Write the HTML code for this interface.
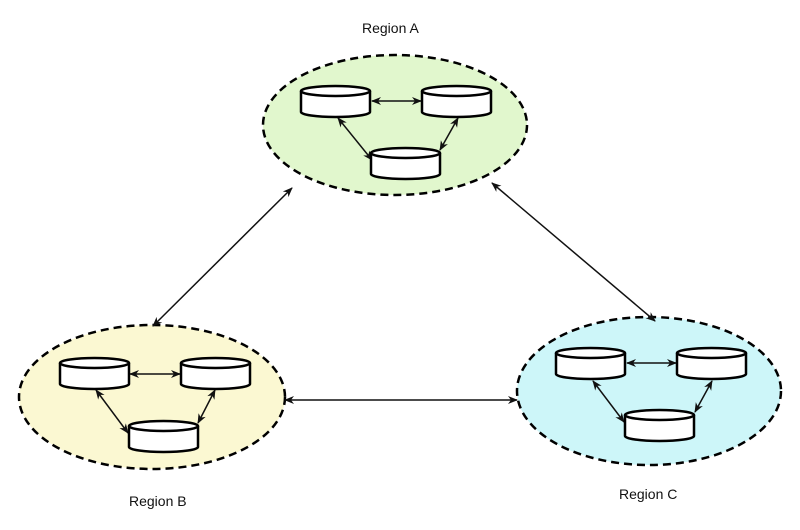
<!DOCTYPE html>
<html><head><meta charset="utf-8"><style>
html,body{margin:0;padding:0;background:#fff;}
svg{display:block;}
text{font-family:"Liberation Sans",Arial,sans-serif;font-size:14px;fill:#111;}
</style></head><body>
<svg width="800" height="530" viewBox="0 0 800 530" xmlns="http://www.w3.org/2000/svg">
<defs>
<marker id="ah" viewBox="0 0 10 10" refX="9" refY="5" markerWidth="10" markerHeight="10" orient="auto-start-reverse" markerUnits="userSpaceOnUse">
<path d="M0,1 L10,5 L0,9 L3,5 z" fill="#111"/>
</marker>
<g id="cyl">
<path d="M0,5 L0,26 A34.5,5 0 0 0 69,26 L69,5" fill="#fff" stroke="#000" stroke-width="2.5"/>
<ellipse cx="34.5" cy="5" rx="34.5" ry="5" fill="#fff" stroke="#000" stroke-width="2.5"/>
</g>
</defs>

<ellipse cx="395" cy="125" rx="132" ry="70" fill="#e1f7cd" stroke="#000" stroke-width="2.5" stroke-dasharray="8,5"/>
<ellipse cx="152" cy="397" rx="133" ry="72" fill="#fbf8d2" stroke="#000" stroke-width="2.5" stroke-dasharray="8,5"/>
<ellipse cx="649" cy="391" rx="132" ry="74" fill="#cdf6f9" stroke="#000" stroke-width="2.5" stroke-dasharray="8,5"/>

<g stroke="#111" stroke-width="1.5" fill="none" marker-start="url(#ah)" marker-end="url(#ah)">
<line x1="292" y1="188" x2="153" y2="326"/>
<line x1="492" y1="183" x2="655" y2="321"/>
<line x1="285" y1="400" x2="517" y2="400"/>
<line x1="372" y1="101" x2="421" y2="101"/>
<line x1="338" y1="118" x2="372" y2="160"/>
<line x1="458" y1="118" x2="440" y2="150"/>
<line x1="130" y1="374" x2="180" y2="374"/>
<line x1="96" y1="390" x2="128" y2="433"/>
<line x1="215" y1="390" x2="198" y2="423"/>
<line x1="627" y1="363" x2="676" y2="363"/>
<line x1="593" y1="381" x2="624" y2="422"/>
<line x1="712" y1="381" x2="695" y2="412"/>
</g>

<use href="#cyl" x="301" y="86"/>
<use href="#cyl" x="422" y="86"/>
<use href="#cyl" x="371" y="148"/>
<use href="#cyl" x="60" y="358"/>
<use href="#cyl" x="181" y="358"/>
<use href="#cyl" x="129" y="421"/>
<use href="#cyl" x="556" y="348"/>
<use href="#cyl" x="677" y="348"/>
<use href="#cyl" x="625" y="410"/>

<text x="362" y="33">Region A</text>
<text x="129" y="506">Region B</text>
<text x="619" y="499">Region C</text>
</svg>
</body></html>
